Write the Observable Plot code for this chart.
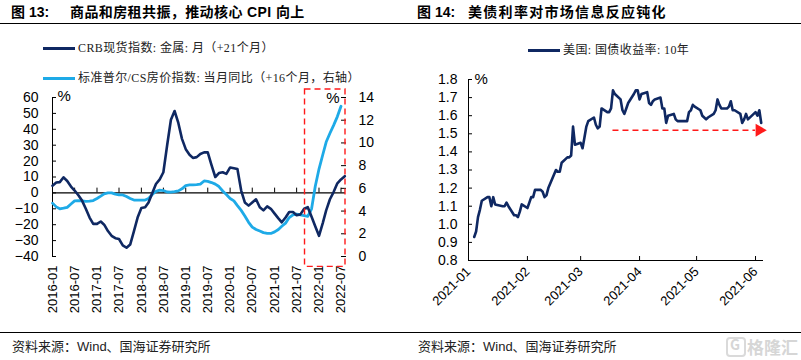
<!DOCTYPE html>
<html>
<head>
<meta charset="utf-8">
<script src="https://cdn.jsdelivr.net/npm/d3@7"></script>
<script src="https://cdn.jsdelivr.net/npm/@observablehq/plot@0.6"></script>
<style>
  body { margin: 0; background: #fff; }
  #root { position: relative; width: 801px; height: 360px; overflow: hidden; background: #fff;
          font-family: "Liberation Sans", Arial, "Noto Sans CJK SC", sans-serif; color: #000; }
  .abs { position: absolute; white-space: nowrap; }
  .title { font-family: "Liberation Sans", "Noto Sans CJK SC", sans-serif; font-weight: bold; font-size: 14px; line-height: 16px; top: 4px; }
  .hline { position: absolute; height: 0; border-top: 1px solid #000; }
  .legend { font-family: "Liberation Serif", "Noto Sans CJK SC", serif; font-size: 12px; line-height: 14px; color: #222; letter-spacing: 0.4px; }
  .swatch { position: absolute; height: 3px; }
  .source { font-family: "Liberation Sans", "Noto Sans CJK SC", sans-serif; font-size: 13px; line-height: 16px; color: #222; top: 339px; }
  .wm { font-family: "Noto Sans CJK SC", sans-serif; font-weight: bold; font-size: 17px; color: #d6d6d6; }
  svg { overflow: visible; }
</style>
</head>
<body>
<div id="root">
  <div class="abs title" style="left:11px;">图 13:</div>
  <div class="abs title" style="left:70px;letter-spacing:0.4px;">商品和房租共振，推动核心 CPI 向上</div>
  <div class="abs title" style="left:417px;">图 14:</div>
  <div class="abs title" style="left:468px;letter-spacing:1.3px;">美债利率对市场信息反应钝化</div>
  <div class="hline" style="left:0;top:23px;width:801px;"></div>

  <div class="swatch" style="left:43px;top:47px;width:32px;background:#0f2862;"></div>
  <div class="abs legend" style="left:78px;top:41px;">CRB现货指数: 金属: 月（+21个月）</div>
  <div class="swatch" style="left:43px;top:77px;width:32px;background:#1eaae7;"></div>
  <div class="abs legend" style="left:78px;top:71px;">标准普尔/CS房价指数: 当月同比（+16个月，右轴）</div>

  <div class="swatch" style="left:528px;top:49px;width:32px;background:#0f2862;"></div>
  <div class="abs legend" style="left:563px;top:43px;">美国: 国债收益率: 10年</div>

  <div id="left" class="abs" style="left:0;top:84px;"></div>
  <div id="right" class="abs" style="left:400px;top:60px;"></div>

  <div class="hline" style="left:0;top:332px;width:801px;"></div>
  <div class="abs source" style="left:12px;">资料来源：Wind、国海证券研究所</div>
  <div class="abs source" style="left:418px;">资料来源：Wind、国海证券研究所</div>
  <div class="abs" style="left:726px;top:337px;width:16px;height:16px;border:2px solid #dadada;border-radius:4px;"></div>
  <div class="abs wm" style="left:730px;top:334px;font-size:14px;">G</div>
  <div class="abs wm" style="left:747px;top:334px;">格隆汇</div>
</div>
<script>
// ---------- Figure 13 data (monthly, starting 2016-01) ----------
const crbStart = "2016-01";
const crbValues = [4.5, 6.5, 6.8, 9.8, 7.5, 4, 1.5, -1.5, -5, -10,
  -15.5, -19.5, -19.5, -18, -20, -24, -27, -28.5, -29, -33,
  -34.5, -32.5, -24, -15.5, -9.5, -9, -6, 0, 5.6, 8.5,
  13, 30, 46, 51.5, 44, 34, 27.5, 24, 22, 22.5,
  24.5, 25.5, 25.5, 17.5, 10, 12.5, 13, 12, 16, 15.5,
  15, 1.5, -6, -8, -6, -4, -9, -11, -8.5, -10,
  -13, -16, -18.5, -15.5, -12, -12, -14, -13.5, -10, -9,
  -15, -21, -27, -19, -11, -4, 0.5, 6, 8.5, 10.5];
// S&P/CS house price index YoY, right axis units (%)
const csValues = [4.70, 4.37, 4.20, 4.26, 4.33, 4.62, 4.90, 4.91, 4.90, 4.86,
  4.87, 4.93, 5.11, 5.32, 5.52, 5.60, 5.60, 5.49, 5.42, 5.42,
  5.28, 5.11, 4.97, 4.97, 4.97, 4.97, 5.11, 5.46, 5.74, 5.85,
  5.81, 5.68, 5.67, 5.71, 5.78, 5.96, 6.24, 6.30, 6.30, 6.33,
  6.37, 6.65, 6.62, 6.51, 6.37, 6.16, 5.77, 5.46, 5.11, 4.90,
  4.48, 4.06, 3.57, 3.01, 2.59, 2.38, 2.24, 2.10, 2.03, 2.03,
  2.17, 2.38, 2.66, 2.94, 3.43, 3.67, 3.74, 3.67, 3.60, 3.53,
  4.20, 6.16, 7.70, 8.96, 10.08, 10.85, 11.55, 12.32, 13.23];
const leftXLabels = ["2016-01","2016-07","2017-01","2017-07","2018-01","2018-07","2019-01",
  "2019-07","2020-01","2020-07","2021-01","2021-07","2022-01","2022-07"];
const leftXDomain = ["2016-01-01", "2022-08-07"];
const leftYTicks = [-40, -30, -20, -10, 0, 10, 20, 30, 40, 50, 60];
const rightAxisTicks = [0, 2, 4, 6, 8, 10, 12, 14];
const leftYDomain = [-40, 60];
const rightYDomain = [0, 14];
const boxX = ["2021-09-08", "2022-08-07"];
const boxY = [-46.5, 65];

// ---------- Figure 14 data (daily US 10Y yield, 2021) ----------
const yieldDates = [
 "2021-01-04","2021-01-05","2021-01-06","2021-01-07","2021-01-08","2021-01-11","2021-01-12","2021-01-13","2021-01-14","2021-01-15",
 "2021-01-19","2021-01-20","2021-01-21","2021-01-22","2021-01-25","2021-01-26","2021-01-27","2021-01-28","2021-01-29",
 "2021-02-01","2021-02-02","2021-02-03","2021-02-04","2021-02-05","2021-02-08","2021-02-09","2021-02-10","2021-02-11","2021-02-12",
 "2021-02-16","2021-02-17","2021-02-18","2021-02-19","2021-02-22","2021-02-23","2021-02-24","2021-02-25","2021-02-26",
 "2021-03-01","2021-03-02","2021-03-03","2021-03-04","2021-03-05","2021-03-08","2021-03-09","2021-03-10","2021-03-11","2021-03-12",
 "2021-03-15","2021-03-16","2021-03-17","2021-03-18","2021-03-19","2021-03-22","2021-03-23","2021-03-24","2021-03-25","2021-03-26",
 "2021-03-29","2021-03-30","2021-03-31",
 "2021-04-01","2021-04-02","2021-04-05","2021-04-06","2021-04-07","2021-04-08","2021-04-09","2021-04-12","2021-04-13","2021-04-14",
 "2021-04-15","2021-04-16","2021-04-19","2021-04-20","2021-04-21","2021-04-22","2021-04-23","2021-04-26","2021-04-27","2021-04-28",
 "2021-04-29","2021-04-30",
 "2021-05-03","2021-05-04","2021-05-05","2021-05-06","2021-05-07","2021-05-10","2021-05-11","2021-05-12","2021-05-13","2021-05-14",
 "2021-05-17","2021-05-18","2021-05-19","2021-05-20","2021-05-21","2021-05-24","2021-05-25","2021-05-26","2021-05-27","2021-05-28",
 "2021-06-01","2021-06-02","2021-06-03","2021-06-04"];
const yieldValues = [
 0.93,0.96,1.04,1.08,1.13,1.15,1.15,1.10,1.15,1.11,
 1.10,1.10,1.12,1.10,1.05,1.05,1.04,1.07,1.11,
 1.09,1.12,1.15,1.15,1.19,1.19,1.18,1.15,1.16,1.20,
 1.30,1.29,1.29,1.34,1.37,1.37,1.38,1.54,1.44,
 1.45,1.42,1.48,1.54,1.57,1.59,1.55,1.53,1.54,1.64,
 1.62,1.62,1.64,1.74,1.72,1.69,1.63,1.61,1.64,1.67,
 1.72,1.74,1.74,
 1.69,1.72,1.73,1.67,1.66,1.68,1.69,1.70,1.64,1.64,
 1.56,1.60,1.61,1.58,1.57,1.57,1.57,1.57,1.62,1.63,
 1.66,1.65,
 1.63,1.60,1.59,1.58,1.59,1.61,1.63,1.69,1.66,1.64,
 1.64,1.65,1.68,1.63,1.63,1.61,1.56,1.58,1.61,1.58,
 1.62,1.60,1.63,1.56];
const rightXLabels = ["2021-01","2021-02","2021-03","2021-04","2021-05","2021-06"];
const rightXDomain = ["2021-01-01", "2021-06-04T16:00"];
const rightYTicks = [0.8, 0.9, 1.0, 1.1, 1.2, 1.3, 1.4, 1.5, 1.6, 1.7, 1.8];
const rightYDomain2 = [0.8, 1.8];
const arrowX = ["2021-03-18", "2021-06-01"];
const arrowHeadX = ["2021-06-03"];
const arrowY = [1.52];

// ---------- helpers ----------
const NAVY = "#0f2862", LIGHT = "#1eaae7", RED = "#ff1a1a";
const parseMonth = d3.utcParse("%Y-%m");
const toDate = s => new Date(s.length === 10 ? s + "T00:00Z" : s + "Z");
const startMonth = parseMonth(crbStart);
const monthAt = i => d3.utcMonth.offset(startMonth, i);
// map right-axis value onto the left axis scale (both axes span the same plot height)
const toLeft = v => leftYDomain[0] + (v - rightYDomain[0]) / (rightYDomain[1] - rightYDomain[0]) * (leftYDomain[1] - leftYDomain[0]);
const fromLeft = v => rightYDomain[0] + (v - leftYDomain[0]) / (leftYDomain[1] - leftYDomain[0]) * (rightYDomain[1] - rightYDomain[0]);

const crbData = crbValues.map((v, i) => ({date: monthAt(i), v}));
const csData = csValues.map((v, i) => ({date: monthAt(i), v: toLeft(v)}));
const leftXTicks = leftXLabels.map(parseMonth);
const box = [{x1: toDate(boxX[0]), x2: toDate(boxX[1]), y1: boxY[0], y2: boxY[1]}];

const fontStyle = {fontFamily: "'Liberation Sans', Arial, sans-serif", fontSize: "14px", color: "#000", background: "transparent", overflow: "visible"};

const leftPlot = Plot.plot({
  width: 400, height: 246,
  marginLeft: 52, marginRight: 55, marginTop: 13, marginBottom: 74,
  x: {type: "utc", domain: leftXDomain.map(toDate)},
  y: {domain: leftYDomain},
  style: fontStyle,
  marks: [
    Plot.frame({anchor: "left", stroke: "#000"}),
    Plot.ruleY([0], {stroke: "#000", strokeWidth: 1.3}),
    Plot.ruleX(leftXTicks, {x: d => d, y1: 0, y2: 3, stroke: "#000"}),
    Plot.axisY(leftYTicks, {anchor: "left", tickSize: 4, insetLeft: 4, tickFormat: () => "", label: null}),
    Plot.axisY(leftYTicks, {anchor: "left", tickSize: 0, tickPadding: 14, label: null, fontSize: 14}),
    Plot.axisY(rightAxisTicks.map(toLeft), {anchor: "right", tickSize: 5, insetRight: 5, tickFormat: () => "", label: null}),
    Plot.axisY(rightAxisTicks.map(toLeft), {anchor: "right", tickSize: 0, tickPadding: 13, label: null, fontSize: 14,
      tickFormat: d => String(Math.round(fromLeft(d)))}),
    Plot.axisX(leftXTicks, {anchor: "bottom", tickSize: 0, tickPadding: 9, tickRotate: -90, label: null, fontSize: 13,
      tickFormat: d3.utcFormat("%Y-%m")}),
    Plot.line(csData, {x: "date", y: "v", stroke: LIGHT, strokeWidth: 2.8}),
    Plot.line(crbData, {x: "date", y: "v", stroke: NAVY, strokeWidth: 2.6}),
    Plot.rect(box, {x1: "x1", x2: "x2", y1: "y1", y2: "y2", fill: "none", stroke: RED, strokeWidth: 1.4, strokeDasharray: "6,4", clip: false}),
    Plot.text(["%"], {frameAnchor: "top-left", dx: 5, dy: -1, lineAnchor: "middle", textAnchor: "start", fontSize: 15}),
    Plot.text(["%"], {frameAnchor: "top-right", dx: -6, dy: 1, lineAnchor: "middle", textAnchor: "end", fontSize: 15})
  ]
});
document.getElementById("left").appendChild(leftPlot);

// ---------- Figure 14 ----------
const yieldData = yieldValues.map((v, i) => ({date: toDate(yieldDates[i]), v}));
const rightXTicks = rightXLabels.map(parseMonth);
const arrowRule = [{x1: toDate(arrowX[0]), x2: toDate(arrowX[1]), y: arrowY[0]}];
const arrowHead = [{x: toDate(arrowHeadX[0]), y: arrowY[0]}];

const rightPlot = Plot.plot({
  width: 401, height: 270,
  marginLeft: 68, marginRight: 39, marginTop: 19, marginBottom: 70,
  x: {type: "utc", domain: rightXDomain.map(toDate)},
  y: {domain: rightYDomain2},
  style: fontStyle,
  marks: [
    Plot.frame({anchor: "left", stroke: "#000"}),
    Plot.frame({anchor: "bottom", stroke: "#000"}),
    Plot.axisY(rightYTicks, {anchor: "left", tickSize: 4, insetLeft: 4, tickFormat: () => "", label: null}),
    Plot.axisY(rightYTicks, {anchor: "left", tickSize: 0, tickPadding: 11, label: null, fontSize: 14, tickFormat: d3.format(".1f")}),
    Plot.axisX(rightXTicks.slice(1), {anchor: "bottom", tickSize: 4, insetBottom: 4, tickFormat: () => "", label: null}),
    Plot.axisX(rightXTicks, {anchor: "bottom", tickSize: 0, tickPadding: 9, tickRotate: -45, label: null, fontSize: 13,
      tickFormat: d3.utcFormat("%Y-%m")}),
    Plot.line(yieldData, {x: "date", y: "v", stroke: NAVY, strokeWidth: 2.6}),
    Plot.ruleY(arrowRule, {x1: "x1", x2: "x2", y: "y", stroke: RED, strokeWidth: 1.6, strokeDasharray: "6,4"}),
    Plot.dot(arrowHead, {x: "x", y: "y", symbol: "triangle", rotate: 90, r: 4.8, fill: RED, stroke: "none"}),
    Plot.text(["%"], {frameAnchor: "top-left", dx: 6, dy: 0, lineAnchor: "middle", textAnchor: "start", fontSize: 15})
  ]
});
document.getElementById("right").appendChild(rightPlot);
</script>
</body>
</html>
